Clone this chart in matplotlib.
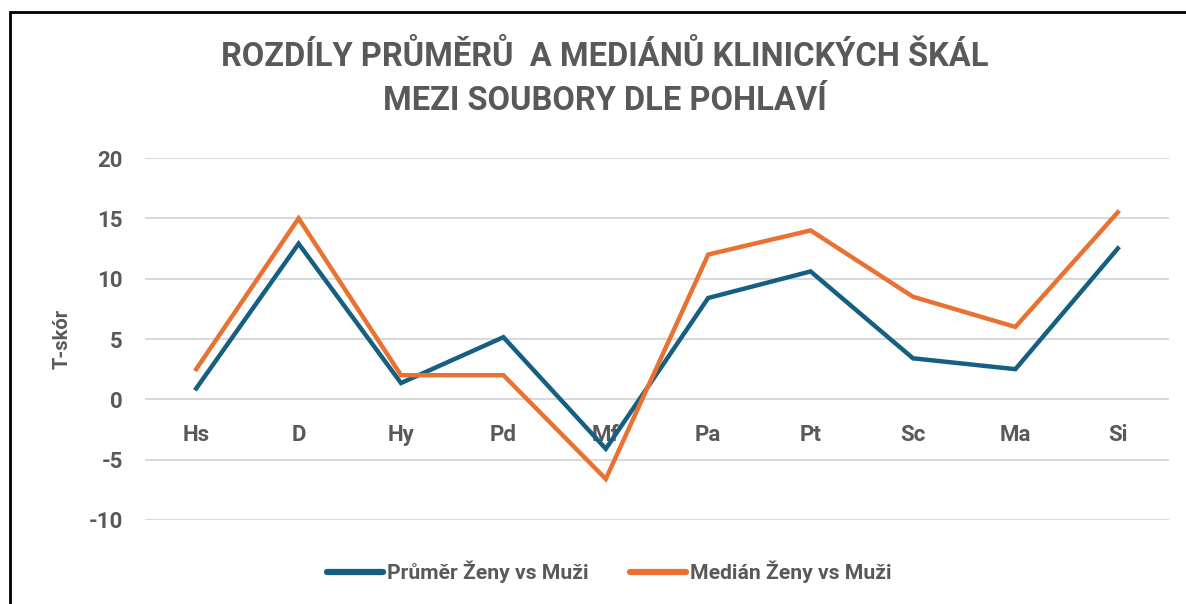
import matplotlib
matplotlib.use("Agg")
import matplotlib.pyplot as plt
from matplotlib.patches import Rectangle

categories = ["Hs", "D", "Hy", "Pd", "Mf", "Pa", "Pt", "Sc", "Ma", "Si"]
prumer = [0.9, 12.9, 1.35, 5.15, -4.1, 8.4, 10.6, 3.4, 2.5, 12.5]
median = [2.5, 15.0, 2.0, 2.0, -6.6, 12.0, 14.0, 8.5, 6.0, 15.5]
yticks = [-10, -5, 0, 5, 10, 15, 20]

title = "ROZDÍLY PRŮMĚRŮ  A MEDIÁNŮ KLINICKÝCH ŠKÁL\nMEZI SOUBORY DLE POHLAVÍ"
label_prumer = "Průměr Ženy vs Muži"
label_median = "Medián Ženy vs Muži"

blue = "#156082"
orange = "#E97132"
gray = "#595959"

plt.rcParams['font.family'] = ['Roboto', 'DejaVu Sans']

fig = plt.figure(figsize=(11.86, 6.04), dpi=100)
ax = fig.add_axes([145 / 1186, 84 / 604, 1024 / 1186, 362 / 604])

x = list(range(len(categories)))
ax.plot(x, prumer, color=blue, lw=3.2, solid_joinstyle='miter', label=label_prumer)
ax.plot(x, median, color=orange, lw=3.2, solid_joinstyle='miter', label=label_median)

ax.set_xlim(-0.5, len(categories) - 0.5)
ax.set_ylim(-10, 20)
ax.spines['bottom'].set_position(('data', 0))
for s in ax.spines.values():
    s.set_visible(False)

ax.set_yticks(yticks)
ax.set_yticklabels([str(v) for v in yticks])
ax.set_xticks(x)
ax.set_xticklabels(categories)
ax.tick_params(axis='both', length=0, labelsize=16, labelcolor=gray)
ax.tick_params(axis='y', pad=16)
ax.tick_params(axis='x', pad=18)
for t in ax.get_xticklabels() + ax.get_yticklabels():
    t.set_fontweight('bold')
ax.yaxis.grid(True, color="#D9D9D9", lw=1.5)
ax.set_axisbelow(True)

ax.set_ylabel("T-skór", fontsize=14.5, fontweight='bold', color=gray, labelpad=12)

fig.text(605 / 1186, 1 - 79 / 604, title, ha='center', va='center',
         fontsize=23.5, fontweight='bold', color=gray, linespacing=1.5)

leg = fig.legend(loc='center', bbox_to_anchor=(609 / 1186, 1 - 572 / 604), ncol=2,
                 frameon=False, handlelength=2.65, handletextpad=0.2, columnspacing=1.95,
                 prop={'size': 15.2, 'weight': 'bold'})
for t in leg.get_texts():
    t.set_color(gray)
for h in leg.legend_handles:
    h.set_linewidth(4.5)
    h.set_solid_capstyle('round')

fig.patches.append(Rectangle((10 / 1186, -0.1), 1.2, 1 - 12 / 604 + 0.1,
                             transform=fig.transFigure, fill=False,
                             edgecolor='black', lw=2))

fig.savefig("out.png", dpi=100)
